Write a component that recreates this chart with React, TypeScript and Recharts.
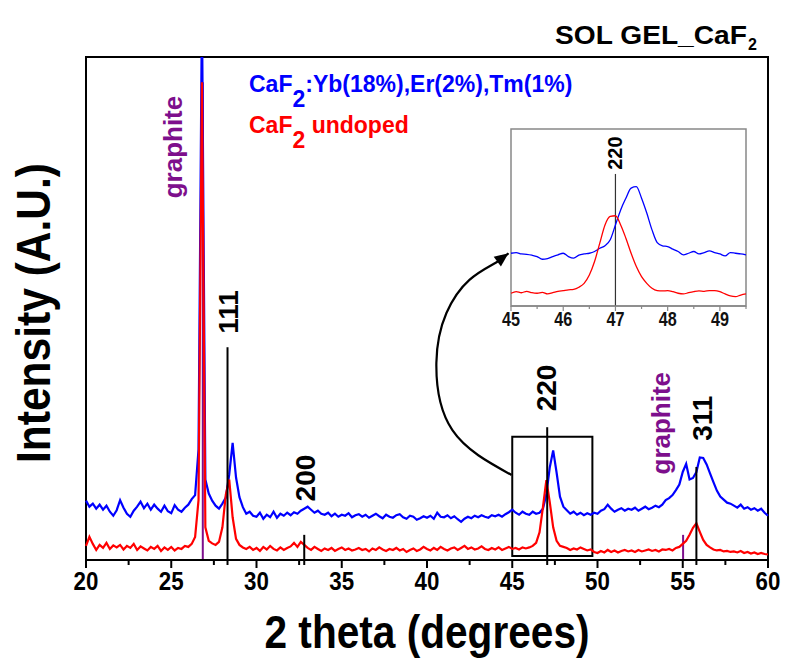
import React from 'react';
import { LineChart, Line, XAxis, YAxis, ReferenceLine, ReferenceArea, ReferenceDot } from 'recharts';

// ---------- main scan (2θ from 20 to 60, step 0.2) ----------
const scanStart = 20;
const scanStep = 0.2;

const dopedIntensity = [
  11.8, 10.6, 11.2, 10.2, 11.0, 10.0, 10.8, 9.6, 8.8, 9.9,
  11.9, 10.4, 9.2, 8.6, 9.8, 10.6, 11.6, 10.3, 11.2, 10.0,
  11.0, 10.2, 9.6, 10.8, 9.7, 9.3, 10.9, 10.0, 9.6, 10.4,
  11.0, 12.1, 12.9, 22.0, 110, 16.0, 13.2, 11.8, 10.8, 10.2,
  11.2, 12.4, 17.0, 23.3, 16.4, 12.5, 10.5, 9.2, 9.6, 8.8,
  8.6, 9.4, 8.2, 9.0, 8.5, 9.6, 8.4, 9.2, 8.8, 9.4,
  8.9, 9.5, 9.2, 9.8, 10.2, 10.6, 10.0, 9.4, 9.8, 9.2,
  9.0, 9.4, 8.7, 9.2, 8.6, 9.0, 8.8, 9.3, 8.5, 8.9,
  9.1, 8.6, 9.0, 8.4, 8.8, 9.2, 8.7, 8.3, 9.0, 8.6,
  8.4, 8.9, 9.1, 8.5, 8.2, 8.8, 8.6, 8.0, 8.3, 8.7,
  8.4, 8.8, 8.2, 9.4, 8.6, 8.5, 8.9, 8.3, 8.7, 8.1,
  7.6, 8.2, 8.6, 8.3, 8.8, 8.5, 8.9, 8.6, 8.4, 8.9,
  8.7, 9.0, 8.6, 9.1, 9.5, 10.0, 9.4, 9.0, 9.6, 9.2,
  9.0, 9.6, 9.2, 9.4, 10.2, 13.0, 18.4, 21.8, 17.4, 12.6,
  10.6, 9.9, 9.2, 9.6, 9.0, 9.4, 8.9, 9.3, 9.0, 9.4,
  9.2, 9.8, 10.1, 11.0, 10.2, 9.6, 10.0, 10.3, 9.8, 10.2,
  10.0, 10.4, 9.8, 10.2, 10.6, 10.1, 10.4, 10.8, 10.5, 11.0,
  11.9, 12.3, 12.9, 13.9, 15.0, 17.5, 19.1, 16.0, 16.3, 17.5,
  20.4, 20.3, 19.0, 17.2, 15.5, 13.8, 12.6, 12.0, 11.4, 11.2,
  10.8, 10.4, 11.0, 10.2, 10.5, 10.0, 10.3, 9.8, 10.2, 9.4,
  8.8,
];

const undopedIntensity = [
  2.8, 4.6, 3.2, 2.0, 3.0, 2.4, 3.4, 2.2, 2.9, 2.5,
  3.0, 2.1, 2.8, 2.4, 3.2, 2.0, 2.7, 2.3, 1.9, 2.6,
  2.2, 2.8, 1.8, 2.5, 2.0, 2.6, 1.9, 2.4, 2.2, 2.8,
  2.6, 3.2, 4.6, 11.9, 95.0, 6.5, 3.8, 3.3, 3.0, 3.6,
  6.5, 13.0, 16.0, 8.5, 4.2, 3.0, 2.5, 2.2, 2.6, 2.0,
  2.4, 1.8, 2.6, 2.1, 2.8, 2.2, 1.9, 2.5, 2.0, 2.4,
  2.7, 3.4, 2.6, 3.6, 3.0, 2.4, 2.0, 2.6, 2.2, 1.8,
  2.3, 2.0, 2.4, 1.8, 2.2, 2.5, 2.0, 2.3, 1.9, 2.1,
  2.4, 2.0, 2.2, 1.7, 2.3, 2.0, 2.5, 2.1, 1.8, 2.2,
  2.0, 2.4, 1.9, 2.2, 1.6, 2.0, 2.3, 1.8, 2.1, 2.6,
  2.2, 1.9, 2.4, 2.0, 2.6, 2.2, 1.9, 2.3, 2.5, 2.0,
  2.4, 2.8, 2.2, 2.5, 2.1, 2.3, 2.7, 2.2, 2.0, 2.4,
  2.1, 2.5, 2.0, 2.3, 2.6, 2.2, 2.4, 2.1, 2.5, 2.3,
  2.5, 2.8, 3.4, 5.5, 10.5, 15.9, 11.5, 6.5, 3.8, 2.8,
  2.6, 2.4, 2.0, 2.3, 2.1, 2.5, 2.2, 1.9, 2.1, 1.6,
  1.4, 1.8, 1.5, 2.0, 1.6, 1.9, 1.5, 1.8, 2.0, 1.7,
  1.9, 1.6, 2.0, 1.7, 1.9, 2.1, 1.8, 2.0, 1.7, 2.1,
  2.0, 2.2, 1.9, 2.4, 2.6, 3.2, 3.8, 5.0, 6.4, 7.3,
  5.6, 4.0, 3.0, 2.5, 2.1, 1.9, 2.0, 1.7, 1.8, 1.6,
  1.7, 1.5, 1.8, 1.4, 1.6, 1.3, 1.5, 1.2, 1.4, 1.2,
  1.1,
];

const twoTheta = dopedIntensity.map((_, i) => +(scanStart + i * scanStep).toFixed(1));
const mainTicks = [20, 22.5, 25, 27.5, 30, 32.5, 35, 37.5, 40, 42.5, 45, 47.5, 50, 52.5, 55, 57.5, 60];

// reference sticks (2θ, stick height)
const cafSticks = [
  { theta: 28.3, height: 42.3, hkl: '111' },
  { theta: 32.8, height: 5.0, hkl: '200' },
  { theta: 47.05, height: 26.4, hkl: '220' },
  { theta: 55.8, height: 18.5, hkl: '311' },
];
const graphiteSticks = [
  { theta: 26.85, height: 95.0 },
  { theta: 55.02, height: 5.0 },
];
// label anchors (2θ, intensity)
const hklLabels = [
  { theta: 28.36, level: 49.3, text: '111' },
  { theta: 32.87, level: 16.3, text: '200' },
  { theta: 47.01, level: 34.2, text: '220' },
  { theta: 56.16, level: 28.2, text: '311' },
];
const graphiteLabels = [
  { theta: 25.13, level: 82.1 },
  { theta: 53.75, level: 27.2 },
];
// zoom box and curved arrow (2θ, intensity)
const zoomBox = { x1: 45, x2: 49.7, y1: 0.8, y2: 24.5 };
const arrowTheta = [44.96, 41.49, 40.55, 41.14, 42.49, 44.08, 44.78];
const arrowLevel = [16.9, 25.8, 39.2, 49.1, 55.7, 59.2, 61.0];

// ---------- inset (2θ from 45 to 49.5, step 0.1) ----------
const insetDoped = [
  29.8, 30.2, 29.4, 29.2, 28.7, 27.9, 26.4, 26.8, 27.9, 28.9,
  29.8, 27.9, 27.0, 28.7, 29.4, 29.8, 30.8, 32.6, 34.0, 37.4,
  45.8, 54.3, 60.9, 66.6, 67.4, 60.9, 52.5, 43.0, 35.8, 34.0,
  33.6, 32.1, 30.8, 28.9, 29.8, 30.8, 29.4, 30.2, 31.1, 30.2,
  29.4, 28.3, 30.2, 29.8, 29.4, 28.9,
];
const insetUndoped = [
  7.2, 8.1, 7.5, 8.3, 7.5, 7.2, 7.7, 6.8, 7.5, 8.3,
  8.7, 9.1, 9.4, 10.6, 12.8, 17.5, 25.1, 35.5, 45.8, 50.6,
  51.0, 45.8, 38.3, 29.8, 22.3, 16.6, 12.8, 10.0, 8.7, 8.5,
  8.7, 8.1, 7.2, 6.8, 7.5, 8.1, 8.5, 8.3, 8.7, 8.7,
  8.1, 6.8, 5.7, 5.3, 6.2, 6.8,
];
const insetTheta = insetDoped.map((_, i) => +(45 + i * 0.1).toFixed(1));
const insetTicks = [45, 45.5, 46, 46.5, 47, 47.5, 48, 48.5, 49, 49.5];
const insetStick = { theta: 47, height: 74.6, label: '220', labelLevel: 86.4 };

const mainData = twoTheta.map((x, i) => ({ x, doped: dopedIntensity[i], undoped: undopedIntensity[i] }));
const arrowData = arrowTheta.map((x, i) => ({ x, y: arrowLevel[i] }));
const insetData = insetTheta.map((x, i) => ({ x, doped: insetDoped[i], undoped: insetUndoped[i] }));

const ARIAL = "'Liberation Sans', Arial, sans-serif";
const BLUE = '#0000ff';
const RED = '#ff0000';
const PURPLE = '#7d0f8c';

const MainTick = (props: any) => {
  const { x, y, payload } = props;
  const v = payload.value;
  const major = Math.abs(v % 5) < 1e-6;
  return (
    <g>
      <line x1={x} y1={y} x2={x} y2={y + (major ? 8 : 5)} stroke="#000" strokeWidth={2} />
      {major && (
        <text x={x} y={y + 30} textAnchor="middle" fontFamily={ARIAL} fontWeight="bold" fontSize={26} fill="#000"
          textLength={String(v).length * 12.4} lengthAdjust="spacingAndGlyphs">
          {v}
        </text>
      )}
    </g>
  );
};

const InsetTick = (props: any) => {
  const { x, y, payload } = props;
  const v = payload.value;
  const major = Math.abs(v % 1) < 1e-6;
  return (
    <g>
      <line x1={x} y1={y} x2={x} y2={y + (major ? 5 : 3)} stroke="#888" strokeWidth={1.2} />
      {major && (
        <text x={x} y={y + 20} textAnchor="middle" fontFamily={ARIAL} fontWeight="bold" fontSize={20} fill="#111"
          textLength={String(v).length * 9} lengthAdjust="spacingAndGlyphs">
          {v}
        </text>
      )}
    </g>
  );
};

const rotatedText = (text: string, color: string, size: number) => (p: any) => (
  <text
    x={p.cx}
    y={p.cy}
    transform={`rotate(-90, ${p.cx}, ${p.cy})`}
    textAnchor="middle"
    dominantBaseline="central"
    fontFamily={ARIAL}
    fontWeight="bold"
    fontSize={size}
    fill={color}
  >
    {text}
  </text>
);

const ArrowDot = (p: any) => {
  if (p.index !== arrowData.length - 1) return <g key={`ad${p.index}`} />;
  return (
    <polygon
      key="arrowhead"
      points="0,0 -14,-6 -14,6"
      transform={`translate(${p.cx},${p.cy}) rotate(-37)`}
      fill="#000"
    />
  );
};

export default function App() {
  return (
    <div style={{ position: 'absolute', left: 0, top: 0, width: 786, height: 668, background: '#fff' }}>
      <div style={{ position: 'absolute', left: 0, top: 0 }}>
        <LineChart width={786} height={668} margin={{ top: 57, right: 18, bottom: 78, left: 86 }}>
          <XAxis
            dataKey="x"
            type="number"
            domain={[20, 60]}
            ticks={mainTicks}
            interval={0}
            height={30}
            tickSize={0}
            tickMargin={0}
            tickLine={false}
            tick={<MainTick />}
            axisLine={{ stroke: '#000', strokeWidth: 2 }}
          />
          <YAxis type="number" domain={[0, 100]} allowDataOverflow width={0} tick={false} tickLine={false} axisLine={false} />

          <ReferenceArea x1={20} x2={60} y1={0} y2={100} fill="none" fillOpacity={0} stroke="#000" strokeWidth={2} />
          <ReferenceArea x1={zoomBox.x1} x2={zoomBox.x2} y1={zoomBox.y1} y2={zoomBox.y2} fill="none" fillOpacity={0} stroke="#000" strokeWidth={2} ifOverflow="visible" />

          {graphiteSticks.map((s, i) => (
            <ReferenceLine key={`g${i}`} segment={[{ x: s.theta, y: 0 }, { x: s.theta, y: s.height }]} stroke={PURPLE} strokeWidth={2} ifOverflow="visible" />
          ))}

          <Line data={mainData} dataKey="doped" type="linear" stroke={BLUE} strokeWidth={2.2} dot={false} activeDot={false} isAnimationActive={false} />
          <Line data={mainData} dataKey="undoped" type="linear" stroke={RED} strokeWidth={2.2} dot={false} activeDot={false} isAnimationActive={false} />

          {cafSticks.map((s, i) => (
            <ReferenceLine key={`c${i}`} segment={[{ x: s.theta, y: -1 }, { x: s.theta, y: s.height }]} stroke="#000" strokeWidth={2} ifOverflow="visible" />
          ))}

          <Line data={arrowData} dataKey="y" type="natural" stroke="#000" strokeWidth={2.2} dot={ArrowDot} activeDot={false} isAnimationActive={false} />

          {hklLabels.map((l, i) => (
            <ReferenceDot key={`hl${i}`} x={l.theta} y={l.level} r={0} ifOverflow="visible" shape={rotatedText(l.text, '#000', 28)} />
          ))}
          {graphiteLabels.map((l, i) => (
            <ReferenceDot key={`gl${i}`} x={l.theta} y={l.level} r={0} ifOverflow="visible" shape={rotatedText('graphite', PURPLE, 26)} />
          ))}
        </LineChart>
      </div>

      <div style={{ position: 'absolute', left: 500, top: 120, background: 'transparent' }}>
        <LineChart width={262} height={222} margin={{ top: 9, right: 16, bottom: 12, left: 11 }}>
          <XAxis
            dataKey="x"
            type="number"
            domain={[45, 49.5]}
            ticks={insetTicks}
            interval={0}
            height={24}
            tickSize={0}
            tickMargin={0}
            tickLine={false}
            tick={<InsetTick />}
            axisLine={{ stroke: '#888', strokeWidth: 1.5 }}
          />
          <YAxis type="number" domain={[0, 100]} width={0} tick={false} tickLine={false} axisLine={false} />
          <ReferenceArea x1={45} x2={49.5} y1={0} y2={100} fill="none" fillOpacity={0} stroke="#888" strokeWidth={1.5} />
          <ReferenceLine segment={[{ x: insetStick.theta, y: 0 }, { x: insetStick.theta, y: insetStick.height }]} stroke="#333" strokeWidth={1.2} />
          <Line data={insetData} dataKey="doped" type="monotone" stroke={BLUE} strokeWidth={1.3} dot={false} activeDot={false} isAnimationActive={false} />
          <Line data={insetData} dataKey="undoped" type="monotone" stroke={RED} strokeWidth={1.3} dot={false} activeDot={false} isAnimationActive={false} />
          <ReferenceDot x={insetStick.theta} y={insetStick.labelLevel} r={0} ifOverflow="visible" shape={rotatedText(insetStick.label, '#000', 20)} />
        </LineChart>
      </div>

      <svg width={786} height={668} style={{ position: 'absolute', left: 0, top: 0, pointerEvents: 'none' }}>
        <text x={555} y={44} fontFamily={ARIAL} fontWeight="bold" fontSize={26} fill="#000" textLength={192} lengthAdjust="spacingAndGlyphs">SOL GEL_CaF</text>
        <text x={748} y={50} fontFamily={ARIAL} fontWeight="bold" fontSize={16} fill="#000">2</text>

        <text x={249} y={92} fontFamily={ARIAL} fontWeight="bold" fontSize={23} fill={BLUE}>
          CaF<tspan dy={15}>2</tspan><tspan dy={-15}>:Yb(18%),Er(2%),Tm(1%)</tspan>
        </text>
        <text x={249} y={133} fontFamily={ARIAL} fontWeight="bold" fontSize={23} fill={RED}>
          CaF<tspan dy={15}>2</tspan><tspan dy={-15}> undoped</tspan>
        </text>

        <text x={427} y={648} textAnchor="middle" fontFamily={ARIAL} fontWeight="bold" fontSize={46} fill="#000"
          textLength={325} lengthAdjust="spacingAndGlyphs">2 theta (degrees)</text>
        <text transform="translate(50, 313) rotate(-90)" textAnchor="middle" fontFamily={ARIAL} fontWeight="bold" fontSize={48} fill="#000"
          textLength={300} lengthAdjust="spacingAndGlyphs">Intensity (A.U.)</text>
      </svg>
    </div>
  );
}
